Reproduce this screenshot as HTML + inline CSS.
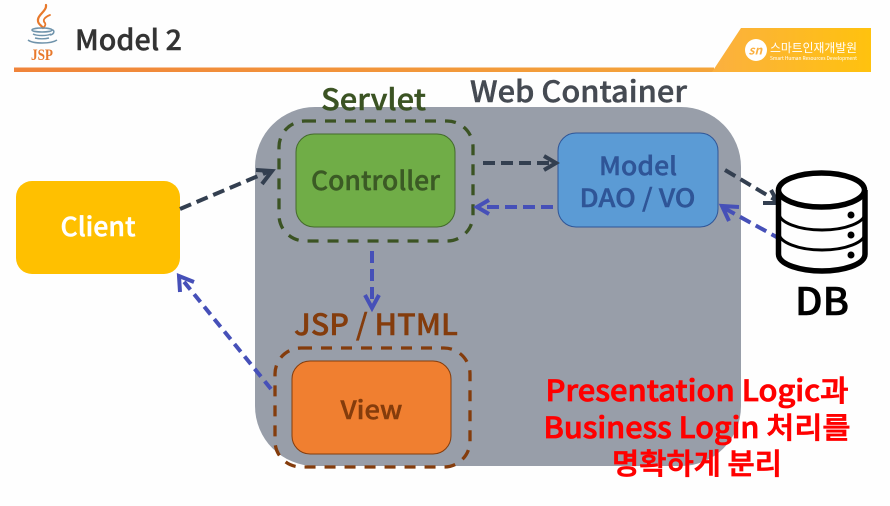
<!DOCTYPE html>
<html><head><meta charset="utf-8"><style>
html,body{margin:0;padding:0;background:#fff;width:890px;height:506px;overflow:hidden}
svg{display:block}
text{font-family:"Noto Sans CJK KR","Liberation Sans",sans-serif;font-weight:500}
.h{stroke-width:.45px}
</style></head><body>
<svg width="890" height="506" viewBox="0 0 890 506" xmlns="http://www.w3.org/2000/svg">
<defs>
<linearGradient id="bar" x1="0" x2="1" y1="0" y2="0"><stop offset="0" stop-color="#f0843a"/><stop offset="1" stop-color="#f4a53a"/></linearGradient>
<linearGradient id="logo" x1="0" x2="1" y1="0" y2="0"><stop offset="0" stop-color="#fbb040"/><stop offset="1" stop-color="#ffc20e"/></linearGradient>
</defs>
<rect width="890" height="506" fill="#fefefe"/>

<!-- JSP logo -->
<g fill="none" stroke="#e8792c" stroke-linecap="round">
<path d="M46 5C47 11 37 15 38 21C38 24 41 25 43 28" stroke-width="2.200"/>
<path d="M50 15C45 17 42 20 45 23C46 25 45 26 44 27" stroke-width="1.800"/>
</g>
<g fill="none" stroke="#6f93ab" stroke-width="1.500">
<ellipse cx="42" cy="30" rx="10" ry="2"/>
<path d="M33 34C37 36 47 36 51 34"/>
<path d="M35 38C39 39 45 39 49 38"/>
<path d="M28 40C33 44 51 44 57 40"/>
<path d="M51 30C55 29 55 34 50 35"/>
</g>
<text x="31" y="60" font-size="15.500" fill="#e8792c" style="font-family:'Liberation Serif',serif;font-weight:700" textLength="22" lengthAdjust="spacingAndGlyphs">JSP</text>

<text x="75" y="50" font-size="28" fill="#333" stroke="#333" class="h" textLength="107" lengthAdjust="spacingAndGlyphs">Model 2</text>

<!-- header bar -->
<rect x="14" y="67.500" width="700" height="4.500" fill="url(#bar)"/>
<polygon points="741,28 871,28 871,72 712,72" fill="url(#logo)"/>
<circle cx="756" cy="50" r="11" fill="#fff"/>
<text x="748.500" y="54.500" font-size="12" fill="#fbb040" style="font-weight:700;font-style:italic">sn</text>
<text x="770" y="52" font-size="12" fill="#fff" textLength="87" lengthAdjust="spacingAndGlyphs" style="font-weight:400">스마트인재개발원</text>
<text x="770" y="60" font-size="5" fill="#fff" textLength="87" lengthAdjust="spacingAndGlyphs" style="font-weight:400">Smart Human Resources Development</text>

<!-- Container -->
<rect x="255" y="107" width="486" height="359" rx="60" ry="60" fill="#989ea9"/>
<text x="470" y="102" font-size="29" fill="#454a52" stroke="#454a52" class="h" textLength="217" lengthAdjust="spacingAndGlyphs">Web Container</text>

<!-- Servlet -->
<text x="321" y="110" font-size="29" fill="#3b5323" stroke="#3b5323" class="h" textLength="105" lengthAdjust="spacingAndGlyphs">Servlet</text>
<rect x="279" y="121" width="194" height="120" rx="26" fill="none" stroke="#3b5323" stroke-width="3.300" stroke-dasharray="11 9"/>
<rect x="296" y="134" width="159" height="93" rx="18" fill="#70ad47" stroke="#436a2b" stroke-width="1"/>
<text x="375.500" y="190" font-size="26" fill="#3b5a25" stroke="#3b5a25" class="h" text-anchor="middle" textLength="129" lengthAdjust="spacingAndGlyphs">Controller</text>

<!-- Model -->
<rect x="558" y="133" width="160" height="94" rx="18" fill="#5b9bd5" stroke="#2f5597" stroke-width="1"/>
<text x="638" y="175" font-size="25" fill="#2f5597" stroke="#2f5597" class="h" text-anchor="middle" textLength="78" lengthAdjust="spacingAndGlyphs">Model</text>
<text x="637.500" y="207" font-size="25" fill="#2f5597" stroke="#2f5597" class="h" text-anchor="middle" textLength="116" lengthAdjust="spacingAndGlyphs">DAO / VO</text>

<!-- View -->
<text x="376" y="335" font-size="29" fill="#843c0c" stroke="#843c0c" class="h" text-anchor="middle" textLength="164" lengthAdjust="spacingAndGlyphs">JSP / HTML</text>
<rect x="275" y="348" width="195" height="119" rx="26" fill="none" stroke="#843c0c" stroke-width="3.300" stroke-dasharray="11 9"/>
<rect x="292" y="361" width="159" height="93" rx="18" fill="#f07f30" stroke="#843c0c" stroke-width="1"/>
<text x="371.500" y="419" font-size="25" fill="#843c0c" stroke="#843c0c" class="h" text-anchor="middle" textLength="62" lengthAdjust="spacingAndGlyphs">View</text>

<!-- Client -->
<rect x="16" y="181" width="164" height="93" rx="16" fill="#ffc000"/>
<text x="98" y="236" font-size="26" fill="#fff" stroke="#fff" stroke-width=".5" text-anchor="middle" textLength="75" lengthAdjust="spacingAndGlyphs">Client</text>

<!-- Arrows -->
<g fill="none" stroke-width="4">
<g stroke="#333f50">
<path d="M180 209L270 171" stroke-dasharray="12 6"/>
<path d="M256 170L272 171L262 184"/>
<path d="M483 163L554 163" stroke-dasharray="12 6"/>
<path d="M544 156L556 163L544 170"/>
<path d="M725 170L777 201" stroke-dasharray="12 6"/>
<path d="M763 203L778 203L771 190"/>
</g>
<g stroke="#4650b8">
<path d="M553 207L478 207" stroke-dasharray="12 6"/>
<path d="M489 200L477 207L489 214"/>
<path d="M372 251L372 305" stroke-dasharray="12 6"/>
<path d="M365 295L372 308L379 295"/>
<path d="M782 240L724 208" stroke-dasharray="12 6"/>
<path d="M739 207L722 206L729 221"/>
<path d="M271 389L181 278" stroke-dasharray="10 6"/>
<path d="M180 292L179 276L194 282"/>
</g>
</g>

<!-- DB -->
<g fill="none" stroke="#000">
<path d="M778.500 190V254C778.500 265 802 271 822 271C842 271 865 265 865 254V190" stroke-width="5.500"/>
<ellipse cx="821.500" cy="190" rx="43" ry="17" stroke-width="5.500" fill="#fff"/>
<path d="M779 213A43 17 0 0 0 865 213" stroke-width="3"/>
<path d="M779 233A43 17 0 0 0 865 233" stroke-width="3"/>
</g>
<circle cx="851" cy="215" r="3.500"/>
<circle cx="851" cy="235" r="3.500"/>
<circle cx="851" cy="255" r="3.500"/>
<text x="822" y="315" font-size="38" fill="#000" stroke="#000" stroke-width=".6" text-anchor="middle" textLength="54" lengthAdjust="spacingAndGlyphs">DB</text>

<!-- Red text -->
<g fill="#ff0000" stroke="#ff0000" stroke-width=".8" font-size="29" text-anchor="middle">
<text x="697" y="401" textLength="303" lengthAdjust="spacingAndGlyphs">Presentation Logic과</text>
<text x="697" y="438" textLength="307" lengthAdjust="spacingAndGlyphs">Business Login 처리를</text>
<text x="697" y="474" textLength="170" lengthAdjust="spacingAndGlyphs">명확하게 분리</text>
</g>
</svg>
</body></html>
